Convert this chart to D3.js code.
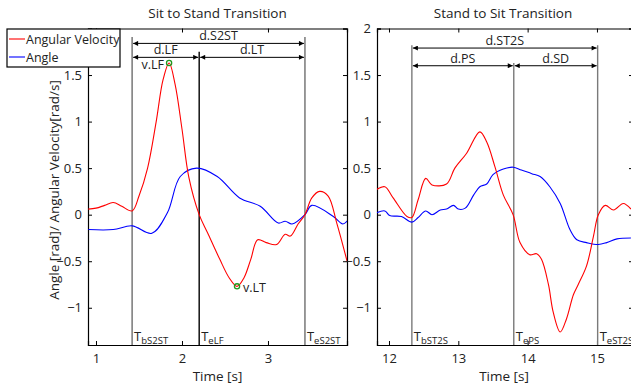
<!DOCTYPE html>
<html>
<head>
<meta charset="utf-8">
<script src="https://cdn.jsdelivr.net/npm/d3@7"></script>
<style>
  body { margin: 0; background: #fff; }
  svg { display: block; font-family: "Open Sans", sans-serif; }
</style>
</head>
<body>
<svg id="chart" width="631" height="387"></svg>
<script>
// ---- data ----
var s2stTime = [0.91, 1.0, 1.1, 1.2, 1.3, 1.42, 1.5, 1.6, 1.7, 1.78, 1.85, 1.92, 2.0, 2.08, 2.2, 2.3, 2.44, 2.55, 2.64, 2.72, 2.8, 2.88, 2.98, 3.1, 3.2, 3.26, 3.35, 3.43, 3.51, 3.6, 3.7, 3.8, 3.92];
var s2stVelocity = [0.06, 0.07, 0.1, 0.13, 0.09, 0.04, 0.2, 0.5, 1.0, 1.45, 1.63, 1.4, 0.92, 0.4, 0.0, -0.2, -0.48, -0.68, -0.77, -0.68, -0.48, -0.27, -0.3, -0.32, -0.21, -0.23, -0.1, 0.0, 0.18, 0.25, 0.2, -0.09, -0.5];
var s2stAngleTime = [0.91, 1.2, 1.42, 1.65, 1.83, 1.98, 2.17, 2.41, 2.67, 2.91, 3.12, 3.2, 3.28, 3.43, 3.51, 3.76, 3.87, 3.93];
var s2stAngle = [-0.16, -0.16, -0.12, -0.2, 0.02, 0.41, 0.5, 0.41, 0.18, 0.09, -0.09, -0.07, -0.1, 0.0, 0.1, -0.02, -0.1, -0.06];

var st2sTime = [11.82, 11.94, 12.06, 12.26, 12.33, 12.42, 12.53, 12.62, 12.83, 12.95, 13.12, 13.31, 13.41, 13.53, 13.65, 13.79, 13.89, 14.03, 14.13, 14.2, 14.3, 14.37, 14.47, 14.56, 14.66, 14.73, 14.85, 14.95, 15.02, 15.12, 15.24, 15.38, 15.49];
var st2sVelocity = [0.27, 0.3, 0.18, -0.02, -0.03, 0.16, 0.39, 0.32, 0.33, 0.5, 0.66, 0.89, 0.78, 0.51, 0.21, 0.0, -0.3, -0.43, -0.42, -0.48, -0.75, -1.05, -1.26, -1.12, -0.86, -0.75, -0.55, -0.23, 0.0, 0.1, 0.05, 0.12, 0.06];
var st2sAngleTime = [11.82, 11.94, 12.01, 12.18, 12.33, 12.42, 12.53, 12.62, 12.74, 12.83, 12.93, 13.0, 13.1, 13.22, 13.31, 13.41, 13.5, 13.65, 13.79, 13.91, 14.06, 14.18, 14.32, 14.47, 14.61, 14.71, 14.85, 15.02, 15.14, 15.29, 15.49];
var st2sAngle = [0.02, 0.04, -0.01, -0.02, -0.08, -0.03, 0.04, 0.0, 0.05, 0.06, 0.1, 0.06, 0.07, 0.21, 0.3, 0.33, 0.43, 0.49, 0.51, 0.48, 0.44, 0.41, 0.3, 0.12, -0.16, -0.27, -0.3, -0.32, -0.3, -0.26, -0.25];

var yTicks = [-1, -0.5, 0, 0.5, 1, 1.5, 2];
var s2stTicks = [1, 2, 3];
var st2sTicks = [12, 13, 14, 15];

// event times (vertical markers)
var s2stEvents = [{ t: 1.42, main: "T", sub: "bS2ST", color: "#6e6e6e" }, { t: 2.2, main: "T", sub: "eLF", color: "#000" }, { t: 3.43, main: "T", sub: "eS2ST", color: "#6e6e6e" }];
var st2sEvents = [{ t: 12.33, main: "T", sub: "bST2S", color: "#7a7a7a" }, { t: 13.8, main: "T", sub: "ePS", color: "#7a7a7a" }, { t: 15.01, main: "T", sub: "eST2S", color: "#7a7a7a" }];

var svg = d3.select("#chart");
var defs = svg.append("defs");

function marker(id, orient) {
    defs.append("marker")
        .attr("id", id)
        .attr("viewBox", "0 0 10 10")
        .attr("refX", 10).attr("refY", 5)
        .attr("markerWidth", 7).attr("markerHeight", 5)
        .attr("markerUnits", "userSpaceOnUse")
        .attr("orient", orient)
        .append("path").attr("d", "M0,0L10,5L0,10z").attr("fill", "#000");
}
marker("arrowEnd", "auto");
marker("arrowStart", "auto-start-reverse");

function drawPanel(opts) {
    var x = d3.scaleLinear().domain(opts.xDomain).range(opts.xRange);
    var y = d3.scaleLinear().domain([-1.4, 2]).range([345, 28.5]);
    var g = svg.append("g");
    var clipId = "clip" + opts.id;
    defs.append("clipPath").attr("id", clipId).append("rect")
        .attr("x", opts.xRange[0]).attr("y", y(2))
        .attr("width", opts.xRange[1] - opts.xRange[0]).attr("height", y(-1.4) - y(2));

    // title
    g.append("text").attr("x", (opts.xRange[0] + Math.min(opts.xRange[1], 631)) / 2 + opts.titleShift).attr("y", 18)
        .attr("text-anchor", "middle").attr("font-size", 13.5).attr("fill", "#222").text(opts.title);

    // axes with inward ticks, MATLAB box style
    var bottom = g.append("g").attr("transform", "translate(0," + y(-1.4) + ")")
        .call(d3.axisBottom(x).tickValues(opts.xTicks).tickSize(-4).tickPadding(9).tickFormat(d3.format("d")));
    var top = g.append("g").attr("transform", "translate(0," + y(2) + ")")
        .call(d3.axisTop(x).tickValues(opts.xTicks).tickSize(-4).tickFormat(""));
    var left = g.append("g").attr("transform", "translate(" + opts.xRange[0] + ",0)")
        .call(d3.axisLeft(y).tickValues(opts.yTicks).tickSize(-4).tickPadding(6).tickFormat(d3.format("")));
    var right = g.append("g").attr("transform", "translate(" + opts.xRange[1] + ",0)")
        .call(d3.axisRight(y).tickValues(yTicks).tickSize(-4).tickFormat(""));
    [bottom, top, left, right].forEach(function (a) {
        a.select(".domain").attr("stroke", "#000").attr("stroke-width", 1.2);
        a.selectAll(".tick line").attr("stroke", "#000");
        a.selectAll(".tick text").attr("font-family", "Open Sans, sans-serif").attr("font-size", 13).attr("fill", "#222");
    });

    g.append("text").attr("x", (opts.xRange[0] + Math.min(opts.xRange[1], 631)) / 2 + opts.labelShift).attr("y", 381)
        .attr("text-anchor", "middle").attr("font-size", 13.5).attr("fill", "#222").text("Time [s]");

    var plot = g.append("g").attr("clip-path", "url(#" + clipId + ")");

    // event lines
    opts.events.forEach(function (ev, i) {
        plot.append("line")
            .attr("x1", x(ev.t)).attr("x2", x(ev.t))
            .attr("y1", y(opts.lineTops[i])).attr("y2", y(-1.4))
            .attr("stroke", ev.color).attr("stroke-width", 1.4);
        var t = g.append("text").attr("x", x(ev.t) + 2).attr("y", 341).attr("font-size", 13).attr("fill", "#222");
        t.append("tspan").text(ev.main);
        t.append("tspan").attr("font-size", 9.5).attr("dy", 3).text(ev.sub);
    });

    // duration arrows
    opts.spans.forEach(function (sp) {
        g.append("line")
            .attr("x1", x(sp.from) + 1).attr("x2", x(sp.to) - 1)
            .attr("y1", y(sp.level)).attr("y2", y(sp.level))
            .attr("stroke", "#000").attr("stroke-width", 1)
            .attr("marker-start", "url(#arrowStart)").attr("marker-end", "url(#arrowEnd)");
        g.append("text").attr("x", (x(sp.from) + x(sp.to)) / 2).attr("y", y(sp.level) - 3)
            .attr("text-anchor", "middle").attr("font-size", 12.5).attr("fill", "#222").text(sp.label);
    });

    var line = d3.line().curve(d3.curveCatmullRom.alpha(0.5))
        .x(function (d) { return x(d[0]); }).y(function (d) { return y(d[1]); });
    plot.append("path").datum(d3.zip(opts.angleTime, opts.angle))
        .attr("d", line).attr("fill", "none").attr("stroke", "#0000ff").attr("stroke-width", 1.1);
    plot.append("path").datum(d3.zip(opts.velTime, opts.vel))
        .attr("d", line).attr("fill", "none").attr("stroke", "#ff0000").attr("stroke-width", 1.1);

    return { x: x, y: y, g: g };
}

var p1 = drawPanel({
    id: 1, title: "Sit to Stand Transition", titleShift: 0, labelShift: 0,
    xDomain: [0.907, 3.919], xRange: [88, 347], xTicks: s2stTicks,
    yTicks: yTicks.filter(function (v) { return v < 2; }), // "2" sits under the legend
    events: s2stEvents, lineTops: [1.91, 1.75, 1.91],
    spans: [{ from: 1.42, to: 3.43, level: 1.84, label: "d.S2ST" },
            { from: 1.42, to: 2.2, level: 1.69, label: "d.LF" },
            { from: 2.2, to: 3.43, level: 1.69, label: "d.LT" }],
    velTime: s2stTime, vel: s2stVelocity, angleTime: s2stAngleTime, angle: s2stAngle
});

var p2 = drawPanel({
    id: 2, title: "Stand to Sit Transition", titleShift: -1, labelShift: 0,
    xDomain: [11.827, 15.52], xRange: [377, 633], xTicks: st2sTicks, yTicks: yTicks,
    events: st2sEvents, lineTops: [1.82, 1.63, 1.82],
    spans: [{ from: 12.33, to: 15.01, level: 1.79, label: "d.ST2S" },
            { from: 12.33, to: 13.8, level: 1.6, label: "d.PS" },
            { from: 13.8, to: 15.01, level: 1.6, label: "d.SD" }],
    velTime: st2sTime, vel: st2sVelocity, angleTime: st2sAngleTime, angle: st2sAngle
});

// peak / trough markers
[{ t: 1.85, v: 1.63, label: "v.LF", dx: -5, dy: 6, anchor: "end" },
 { t: 2.64, v: -0.77, label: "v.LT", dx: 6, dy: 6, anchor: "start" }].forEach(function (m) {
    p1.g.append("circle").attr("cx", p1.x(m.t)).attr("cy", p1.y(m.v)).attr("r", 2.6)
        .attr("fill", "none").attr("stroke", "#1f9a1f").attr("stroke-width", 1.3);
    p1.g.append("text").attr("x", p1.x(m.t) + m.dx).attr("y", p1.y(m.v) + m.dy)
        .attr("text-anchor", m.anchor).attr("font-size", 12.5).attr("fill", "#222").text(m.label);
});

// y label
svg.append("text").attr("transform", "translate(59,190) rotate(-90)")
    .attr("text-anchor", "middle").attr("font-size", 13.5).attr("fill", "#222")
    .text("Angle [rad]/ Angular Velocity[rad/s]");

// legend
var legend = svg.append("g");
legend.append("rect").attr("x", 7).attr("y", 29).attr("width", 113).attr("height", 38)
    .attr("fill", "#fff").attr("stroke", "#000").attr("stroke-width", 1.2);
[{ label: "Angular Velocity", color: "#ff0000" }, { label: "Angle", color: "#0000ff" }].forEach(function (d, i) {
    var yy = 39 + i * 18;
    legend.append("line").attr("x1", 9).attr("x2", 25).attr("y1", yy).attr("y2", yy)
        .attr("stroke", d.color).attr("stroke-width", 1.1);
    legend.append("text").attr("x", 26).attr("y", yy + 4.5).attr("font-size", 12.5).attr("fill", "#222").text(d.label);
});
</script>
</body>
</html>
